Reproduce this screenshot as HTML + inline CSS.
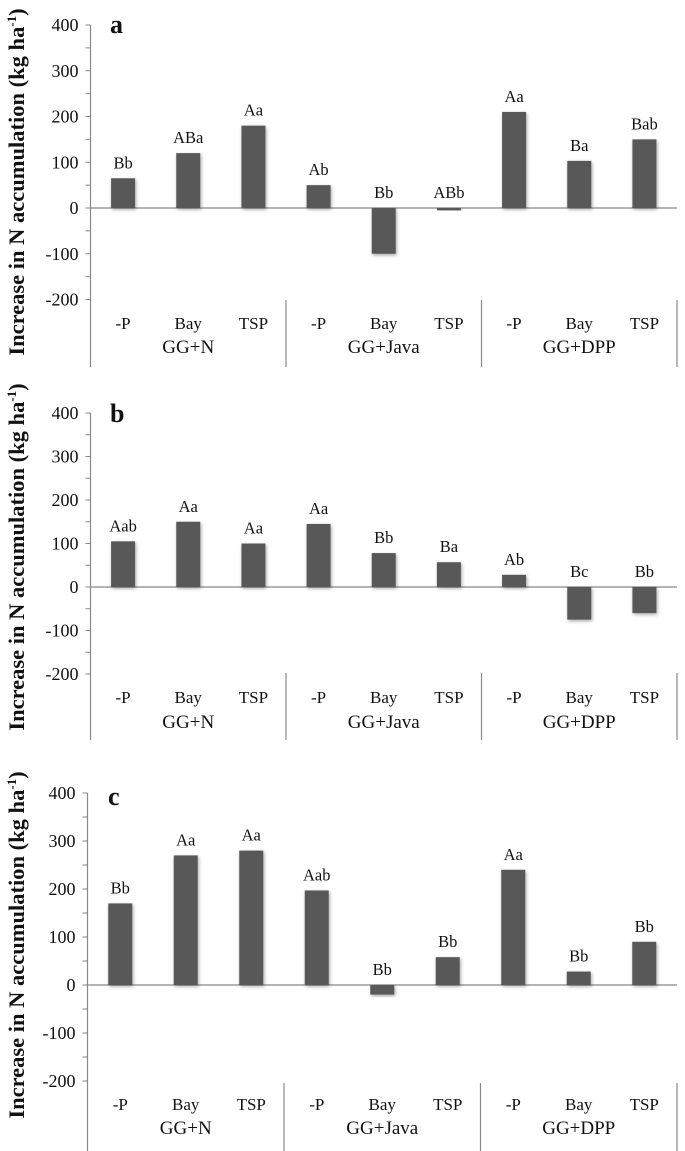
<!DOCTYPE html>
<html><head><meta charset="utf-8"><style>
body{margin:0;background:#fff;}
svg{display:block;font-family:"Liberation Serif",serif;}
</style></head><body>
<svg id="chart" width="685" height="1151" viewBox="0 0 685 1151" xmlns="http://www.w3.org/2000/svg">
<defs><filter id="sh" x="-30%" y="-30%" width="160%" height="160%"><feDropShadow dx="1" dy="1.5" stdDeviation="1.8" flood-color="#000" flood-opacity="0.35"/></filter></defs>
</svg>
<script>
const categories = ["-P","Bay","TSP","-P","Bay","TSP","-P","Bay","TSP"];
const groups = ["GG+N","GG+Java","GG+DPP"];
const tickValues = [400,300,200,100,0,-100,-200];
const valuesA = [65,120,180,50,-100,-5,210,103,150];
const valuesB = [105,150,100,145,78,57,28,-75,-60];
const valuesC = [170,270,280,197,-20,58,240,28,90];
const lettersA = ["Bb","ABa","Aa","Ab","Bb","ABb","Aa","Ba","Bab"];
const lettersB = ["Aab","Aa","Aa","Aa","Bb","Ba","Ab","Bc","Bb"];
const lettersC = ["Bb","Aa","Aa","Aab","Bb","Bb","Aa","Bb","Bb"];

const svg = document.getElementById('chart');
const NS = 'http://www.w3.org/2000/svg';
function mk(tag, attrs, parent){const e=document.createElementNS(NS,tag);for(const k in attrs)e.setAttribute(k,attrs[k]);(parent||svg).appendChild(e);return e;}

const panels = [
 {id:'a', vals:valuesA, lets:lettersA, ax:90.5, top:25, zero:208, bottom:367, catY:329, grpY:353, divTop:300, titleY:182, lx:110, ly:33},
 {id:'b', vals:valuesB, lets:lettersB, ax:90.5, top:413, zero:587, bottom:740, catY:703, grpY:728, divTop:673, titleY:557, lx:110, ly:422},
 {id:'c', vals:valuesC, lets:lettersC, ax:87.5, top:793, zero:985, bottom:1151, catY:1110, grpY:1134, divTop:1083, titleY:945, lx:108, ly:805}
];
const right = 677;

panels.forEach(p=>{
  const g = mk('g',{});
  
  
  const unit = (p.zero - p.top)/400;
  const y = v => p.zero - v*unit;
  const bw = (right - p.ax)/categories.length;
  const xc = i => p.ax + bw*(i+0.5);
  const axis = mk('line',{x1:p.ax,y1:p.top,x2:p.ax,y2:p.bottom,stroke:'#888','stroke-width':1.2},g);
  
  
  for(let v=400; v>=-200; v-=50){
    mk('line',{x1:p.ax-5,y1:y(v),x2:p.ax,y2:y(v),stroke:'#888','stroke-width':1},g);
  }
  tickValues.forEach(v=>{
    const t = mk('text',{x:p.ax-12,y:y(v)+6,'text-anchor':'end','font-size':18,fill:'#111'},g);
    t.textContent = v;
    
    
  });
  const tt = mk('text',{x:0,y:0,'text-anchor':'middle','font-size':22.5,'font-weight':'bold',fill:'#111',transform:`translate(24,${p.titleY}) rotate(-90)`},g);
  
  
  tt.innerHTML = 'Increase in N accumulation (kg ha<tspan dy="-8" font-size="13">-1</tspan><tspan dy="8">)</tspan>';
  const zl = mk('line',{x1:p.ax,y1:p.zero,x2:right,y2:p.zero,stroke:'#888','stroke-width':1.2},g);
  
  
  p.vals.forEach((v,i)=>{
    const w = 24;
    const r = mk('rect',{x:xc(i)-w/2,y:Math.min(y(v),p.zero),width:w,height:Math.abs(y(v)-p.zero),fill:'#595959',filter:'url(#sh)'},g);
    
    
    const lt = mk('text',{x:xc(i),y:y(Math.max(v,0))-10,'text-anchor':'middle','font-size':16.5,fill:'#111'},g);
    lt.textContent = p.lets[i];
    
    
    const ct = mk('text',{x:xc(i),y:p.catY,'text-anchor':'middle','font-size':17,fill:'#111'},g);
    ct.textContent = categories[i];
    
    
  });
  [3,6,9].forEach(k=>{
    const xx = p.ax + bw*k;
    mk('line',{x1:xx,y1:p.divTop,x2:xx,y2:p.bottom,stroke:'#888','stroke-width':1.2},g);
  });
  groups.forEach((gn,j)=>{
    const gt = mk('text',{x:p.ax+bw*(3*j+1.5),y:p.grpY,'text-anchor':'middle','font-size':19,fill:'#111'},g);
    gt.textContent = gn;
    
    
  });
  const pl = mk('text',{x:p.lx,y:p.ly,'font-size':26,'font-weight':'bold',fill:'#111'},g);
  pl.textContent = p.id;
  
  
});
</script>
</body></html>
